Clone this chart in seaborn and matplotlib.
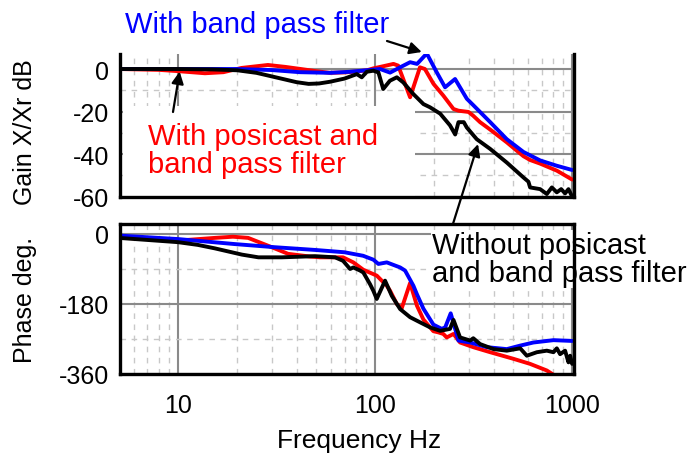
import numpy as np
import pandas as pd
import matplotlib
matplotlib.use("Agg")
import matplotlib.pyplot as plt
import seaborn as sns
from matplotlib.ticker import FixedLocator, LogLocator, NullFormatter
from matplotlib.patches import Rectangle

# ---------------- data ----------------
series_names = ["With posicast and band pass filter", "With band pass filter",
                "Without posicast and band pass filter"]
series_colors = ["#ff0000", "#0000ff", "#000000"]

# Gain (dB)
f_gain_red = [5, 8, 10, 13.7, 17, 21, 28.6, 35, 42, 50, 59, 70, 80, 91, 98, 110, 124, 131,
              139, 150.6, 169, 179, 198, 222, 250, 265, 298, 315, 341, 384, 466, 566, 612,
              688, 836, 1000]
gain_red = [0, -0.4, -1, -2, -1.5, 0.5, 1.9, 1, 0, -1, -1.8, -1.6, -1.2, -0.6, 0.3, 1.3, 2.4,
            1.6, -4.7, -13.3, 0.8, 0, -7, -12.5, -18.8, -19.6, -20.2, -22, -25, -28.5, -34.5,
            -41, -42.8, -44.5, -47.8, -52]

f_gain_blue = [5, 10, 20, 30, 41.6, 59.1, 74.7, 97.7, 106, 119.2, 134, 150.6, 163.4, 183,
               205.7, 226.6, 254.7, 292.2, 315, 384, 466, 566, 688, 836, 1000]
gain_blue = [0, 0, 0, -0.5, -1.5, -1.8, -1.3, -0.3, 0, -1.7, 0.8, 3.2, 2.4, 7.3, -1.6, -8.6,
             -4.7, -14, -17, -25, -33, -39, -43, -45.5, -47.5]

f_gain_black = [5, 10, 15, 20, 25, 30, 40, 46, 52, 59, 70, 80.8, 85.6, 90.8, 98, 104, 110,
                119, 129, 139, 156.5, 176, 190, 214, 240, 255, 265, 282, 292, 328, 384, 466,
                566, 600, 612, 688, 744, 789, 836, 880, 921, 958, 1000]
gain_black = [0, 0, -0.2, -0.6, -1.8, -3.5, -6.2, -7, -6.8, -6, -4.5, -2.4, -3.9, -1.3, -0.8,
              -1.6, -9.4, -5.5, -3.9, -6.3, -11.8, -16.5, -18, -21, -26.5, -30.8, -25, -25,
              -27.5, -33, -37.6, -44, -51, -53, -55.7, -56.5, -58.8, -55.7, -58, -56.5, -58.5,
              -56.5, -60]

# Phase (deg)
f_ph_red = [5, 10, 15.4, 19, 22.7, 28.6, 36.2, 46.8, 52.6, 68.8, 77.6, 87.2, 102, 114.7,
            119.2, 128.9, 136.6, 150.6, 163, 176, 197.7, 209.6, 222, 231, 250, 270, 315, 384,
            504, 612, 744, 804]
ph_red = [-9, -17, -10, -7, -10, -30, -51, -58, -60, -60, -73, -92, -107, -133, -146, -180,
          -191, -126, -184, -220, -250, -253, -257, -266, -257, -279, -291, -304, -321, -334,
          -351, -362]

f_ph_blue = [5, 10, 19.5, 31, 49.6, 70, 87, 98, 104, 114.7, 134, 142, 156.5, 162.8, 175.9,
             197.7, 218, 227, 242, 265, 304, 369, 466, 545, 636, 804, 1000]
ph_blue = [-4, -13, -26, -34, -41, -47, -56, -66, -77, -73, -86, -94, -133, -154, -192, -233,
           -244, -240, -204, -274, -279, -291, -296, -287, -279, -273, -275]

f_ph_black = [5, 10, 12.6, 15.4, 21.1, 25.6, 33.6, 49.6, 62.7, 68.8, 74.7, 77.6, 83.9, 87.2,
              94.3, 98, 102, 112.4, 121.6, 134, 150.6, 169, 190, 214, 240, 250, 270, 304, 315,
              341, 399, 466, 545, 589, 662, 744, 804, 836, 869, 921, 958, 977, 1000]
ph_black = [-10, -21, -28, -37, -53, -60, -60, -57, -60, -69, -90, -86, -94, -99, -129, -146,
            -167, -120, -159, -193, -214, -227, -240, -249, -244, -221, -266, -274, -268, -283,
            -296, -300, -294, -313, -304, -300, -304, -294, -309, -300, -330, -313, -334]

x_ticks = [10, 100, 1000]
x_ticklabels = ["10", "100", "1000"]
gain_major = [0, -20, -40, -60]
gain_minor = [-10, -30, -50]
phase_major = [0, -180, -360]
phase_minor = [-90, -270]

# ---------------- tables ----------------
gain_df = pd.concat([
    pd.DataFrame({"freq": f_gain_red, "val": gain_red, "series": series_names[0]}),
    pd.DataFrame({"freq": f_gain_blue, "val": gain_blue, "series": series_names[1]}),
    pd.DataFrame({"freq": f_gain_black, "val": gain_black, "series": series_names[2]}),
], ignore_index=True)
phase_df = pd.concat([
    pd.DataFrame({"freq": f_ph_red, "val": ph_red, "series": series_names[0]}),
    pd.DataFrame({"freq": f_ph_blue, "val": ph_blue, "series": series_names[1]}),
    pd.DataFrame({"freq": f_ph_black, "val": ph_black, "series": series_names[2]}),
], ignore_index=True)
palette = dict(zip(series_names, series_colors))

# ---------------- style ----------------
sns.set_theme(style="white")
plt.rcParams['font.family'] = ['Liberation Sans', 'DejaVu Sans']
plt.rcParams['axes.unicode_minus'] = False
for k in ("text.color", "axes.labelcolor", "xtick.color", "ytick.color"):
    plt.rcParams[k] = "black"

W, H = 689, 456
fig = plt.figure(figsize=(W / 100, H / 100), dpi=100)
ax1 = fig.add_axes([120 / W, 1 - 198 / H, 454 / W, 143 / H])
ax2 = fig.add_axes([120 / W, 1 - 375 / H, 454 / W, 150 / H])

for ax, df in ((ax1, gain_df), (ax2, phase_df)):
    sns.lineplot(data=df, x="freq", y="val", hue="series", hue_order=series_names,
                 palette=palette, estimator=None, sort=True, legend=False, lw=2.8, ax=ax)
    ax.set_xscale("log")
    ax.set_xlim(5.08, 1022)
    ax.set_xlabel("")
    ax.set_axisbelow(True)
    ax.xaxis.set_major_locator(FixedLocator(x_ticks))
    ax.xaxis.set_minor_locator(LogLocator(base=10, subs=np.arange(2, 10)))
    ax.xaxis.set_minor_formatter(NullFormatter())
    ax.grid(which="major", color="#8a8a8a", lw=1.5, ls="-")
    ax.grid(which="minor", color="#c8c8c8", lw=1.0, ls=(0, (4, 4)))
    ax.tick_params(which="major", direction="in", length=15, width=2.2, color="black",
                   labelcolor="black", top=False, right=False, labelsize=18, pad=8)
    ax.tick_params(which="minor", direction="in", length=7.5, width=2.2, color="black",
                   top=False, right=False)
    ax.tick_params(axis="x", which="major", pad=14)
    for s in ax.spines.values():
        s.set_linewidth(2.4)
        s.set_color("black")

ax1.spines["top"].set_visible(False)
ax1.set_ylim(-60.2, 7.06)
ax1.yaxis.set_major_locator(FixedLocator(gain_major))
ax1.yaxis.set_minor_locator(FixedLocator(gain_minor))
ax1.set_xticklabels([])
ax1.set_ylabel("Gain X/Xr dB", fontsize=18, color="black")
ax1.yaxis.set_label_coords(-0.183, 0.46)

ax2.set_ylim(-360, 25.7)
ax2.yaxis.set_major_locator(FixedLocator(phase_major))
ax2.yaxis.set_minor_locator(FixedLocator(phase_minor))
ax2.set_xticklabels(x_ticklabels)
ax2.set_ylabel("Phase deg.", fontsize=18, color="black")
ax2.yaxis.set_label_coords(-0.183, 0.5)
ax2.set_xlabel("Frequency Hz", fontsize=19, color="black")
ax2.xaxis.set_label_coords(0.527, -0.36)

# white area behind the red annotation
ax1.add_patch(Rectangle((0.007, 0.0), 0.643, 0.636, transform=ax1.transAxes,
                        facecolor="white", edgecolor="none", zorder=1))

ax1.text(148 / W, 1 - 151 / H, "With posicast and\nband pass filter", transform=fig.transFigure,
         color="#ff0000", fontsize=21, ha="left", va="center", linespacing=1.0, zorder=3)
ax1.text(125 / W, 1 - 25 / H, "With band pass filter", transform=fig.transFigure,
         color="#0000ff", fontsize=21, ha="left", va="center", zorder=3)
ax2.text(432 / W, 1 - 260 / H, "Without posicast\nand band pass filter", transform=fig.transFigure,
         color="black", fontsize=21, ha="left", va="center", linespacing=1.0, zorder=2.3,
         clip_on=False, bbox=dict(facecolor="white", edgecolor="none", pad=1))

arrow = dict(arrowstyle="-|>", color="black", lw=1.6, mutation_scale=18, shrinkA=0, shrinkB=0)
ax1.annotate("", xy=(172.6, 8.0), xytext=(387 / W, 1 - 42 / H), textcoords="figure fraction",
             arrowprops=arrow, annotation_clip=False)
ax1.annotate("", xy=(10.2, -1.2), xytext=(173 / W, 1 - 113 / H), textcoords="figure fraction",
             arrowprops=arrow, annotation_clip=False)
ax1.annotate("", xy=(333, -35.3), xytext=(452 / W, 1 - 228 / H), textcoords="figure fraction",
             arrowprops=arrow, annotation_clip=False)

fig.savefig("out.png", dpi=100)
